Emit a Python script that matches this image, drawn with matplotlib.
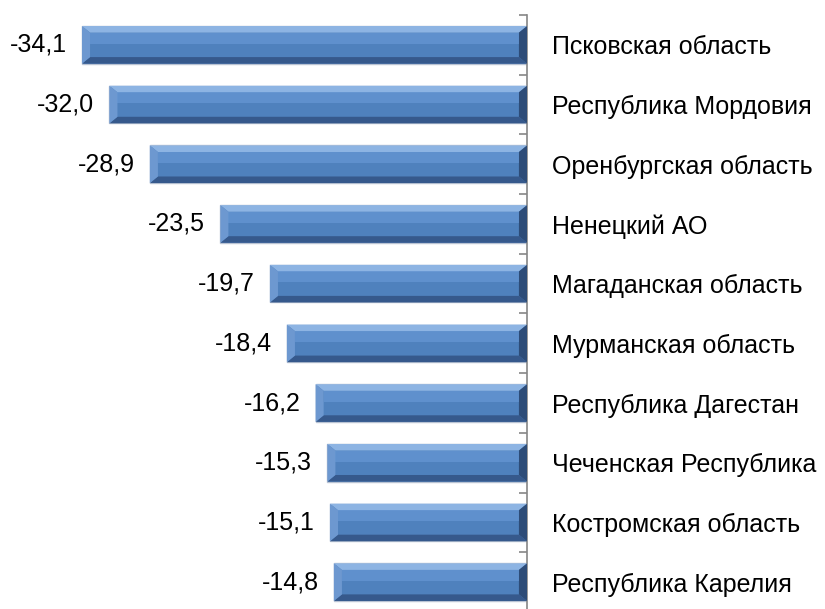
import numpy as np
import matplotlib.pyplot as plt
from matplotlib.patches import Polygon
from matplotlib.ticker import FixedLocator

plt.rcParams['font.family'] = ['Liberation Sans', 'DejaVu Sans']

regions = ['Псковская область', 'Республика Мордовия', 'Оренбургская область',
           'Ненецкий АО', 'Магаданская область', 'Мурманская область',
           'Республика Дагестан', 'Чеченская Республика', 'Костромская область',
           'Республика Карелия']
values = [-34.1, -32.0, -28.9, -23.5, -19.7, -18.4, -16.2, -15.3, -15.1, -14.8]

fig = plt.figure(figsize=(8.25, 6.09), dpi=100)
ax = fig.add_axes([0.0, -3 / 609, 527 / 825, 597 / 609])

y = np.arange(len(values))
h = 0.63
ax.barh(y, values, height=h, color='#4f81bd', edgecolor='#b9c3d3', linewidth=1, zorder=2)

# bevel effect
bx = 0.62   # horizontal bevel width, data units
by = 0.11   # vertical bevel width
for yi, v in zip(y, values):
    x0, x1 = v, 0.0
    t, b = yi - h / 2, yi + h / 2
    shapes = [
        ([(x0, t), (x1, t), (x1 - bx, t + by), (x0 + bx, t + by)], '#8db4e3'),
        ([(x0, b), (x1, b), (x1 - bx, b - by), (x0 + bx, b - by)], '#36598c'),
        ([(x0, t), (x0 + bx, t + by), (x0 + bx, b - by), (x0, b)], '#6d98d0'),
        ([(x1, t), (x1 - bx, t + by), (x1 - bx, b - by), (x1, b)], '#2d4c78'),
    ]
    for pts, c in shapes:
        ax.add_patch(Polygon(pts, closed=True, facecolor=c, edgecolor='none', zorder=3))
    # soft gradient in the middle face
    ax.add_patch(Polygon([(x0 + bx, t + by), (x1 - bx, t + by),
                          (x1 - bx, yi - 0.02), (x0 + bx, yi - 0.02)],
                         closed=True, facecolor='#6a9bd8', edgecolor='none', alpha=0.6, zorder=3))
    ax.text(v - 1.15, yi, f'{v:.1f}'.replace('.', ','), ha='right', va='center',
            fontsize=18, color='black')

ax.set_xlim(-40.38, 0)
ax.set_ylim(9.5, -0.5)

for s in ['left', 'top', 'bottom']:
    ax.spines[s].set_visible(False)
ax.spines['right'].set_color('#868686')
ax.spines['right'].set_linewidth(1.2)
ax.set_xticks([])
ax.yaxis.tick_right()
ax.set_yticks(y)
ax.set_yticklabels(regions, fontsize=18)
ax.yaxis.set_minor_locator(FixedLocator(np.arange(-0.5, 10, 1.0)))
ax.tick_params(axis='y', which='major', length=0, pad=18)
ax.tick_params(axis='y', which='minor', direction='in', length=6, color='#868686', width=1.2)
for lbl in ax.get_yticklabels():
    lbl.set_horizontalalignment('left')

fig.savefig('out.png', dpi=100)
